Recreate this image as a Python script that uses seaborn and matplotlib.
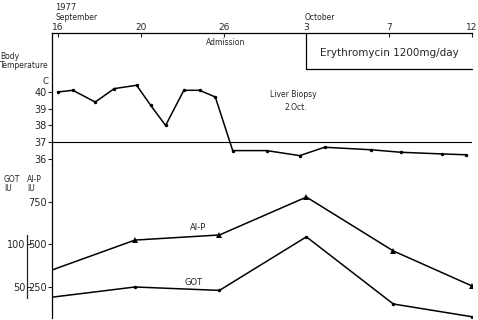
import matplotlib
matplotlib.use("Agg")
import matplotlib.pyplot as plt
import seaborn as sns
import pandas as pd

# Data (x in date-tick units: 0=Sep16, 1=Sep20, 2=Sep26, 3=Oct3, 4=Oct7, 5=Oct12)
date_ticks = [0, 1, 2, 3, 4, 5]
date_labels = ["16", "20", "26", "3", "7", "12"]

temp_pos = [0.0, 0.18, 0.45, 0.68, 0.95, 1.12, 1.30, 1.52, 1.71, 1.90,
            2.11, 2.52, 2.92, 3.22, 3.78, 4.14, 4.64, 4.93]
temp_val = [40.0, 40.1, 39.4, 40.2, 40.4, 39.2, 38.0, 40.1, 40.1, 39.7,
            36.5, 36.5, 36.2, 36.7, 36.55, 36.4, 36.3, 36.25]

lab_pos = [-0.072, 0.93, 1.95, 3.0, 4.05, 5.0]
alp_val = [350, 526, 556, 779, 462, 256]
got_val = [38, 50, 46, 109, 30, 15]

ery_start = 3  # Oct 3

sns.set_style("white")
plt.rcParams["font.family"] = ["DejaVu Sans"]

W, H = 478, 320
fig = plt.figure(figsize=(W / 100, H / 100), dpi=100)

x0, x1 = 52 / W, 420 / W
ax_t = fig.add_axes([x0, 1 - 165 / H, x1, 132 / H])
ax_e = fig.add_axes([x0, 1 - 318 / H, x1, 153 / H], sharex=ax_t)

temp_df = pd.DataFrame({"pos": temp_pos, "temp": temp_val})
lab_df = pd.DataFrame({"pos": lab_pos, "alp": alp_val,
                       "got5": [g * 5 for g in got_val]})

# --- temperature panel ---
sns.lineplot(data=temp_df, x="pos", y="temp", ax=ax_t, color="black",
             lw=1.1, marker="o", markersize=2.5, markeredgewidth=0)
ax_t.axhline(37, color="black", lw=0.8)
ax_t.set_xlim(-0.072, 5.0)
ax_t.set_ylim(35.64, 43.52)
ax_t.set_yticks([36, 37, 38, 39, 40])
ax_t.set_xticks(date_ticks)
ax_t.set_xticklabels(date_labels)
ax_t.xaxis.tick_top()
ax_t.tick_params(axis="x", top=True, bottom=False, direction="in", length=3,
                 width=0.8, pad=0.5, labelsize=6.5)
ax_t.tick_params(axis="y", left=True, direction="out", length=3, width=0.8,
                 pad=1, labelsize=7)
for s in ["right", "bottom"]:
    ax_t.spines[s].set_visible(False)
for s in ["left", "top"]:
    ax_t.spines[s].set_linewidth(0.9)
    ax_t.spines[s].set_color("black")
ax_t.set_xlabel("")
ax_t.set_ylabel("")

# erythromycin bracket
ax_t.plot([ery_start, ery_start, 5.0], [43.52, 41.4, 41.4], color="black",
          lw=0.9, clip_on=False)
ax_t.text(4.0, 42.35, "Erythromycin 1200mg/day", fontsize=7.5,
          ha="center", va="center")
ax_t.text(2.03, 42.93, "Admission", fontsize=5.5, ha="center", va="center")
ax_t.text(2.84, 39.82, "Liver Biopsy", fontsize=5.5, ha="center", va="center")
ax_t.text(2.87, 39.1, "2.Oct.", fontsize=5.5, ha="center", va="center")

# --- enzyme panel (GOT drawn in Al-P units, factor 5) ---
every = list(range(1, len(lab_pos)))
sns.lineplot(data=lab_df, x="pos", y="alp", ax=ax_e, color="black", lw=1.1,
             marker="^", markersize=4, markeredgewidth=0, markevery=every)
sns.lineplot(data=lab_df, x="pos", y="got5", ax=ax_e, color="black", lw=1.1,
             marker="o", markersize=2.5, markeredgewidth=0, markevery=every)

ax_e.set_ylim(67.6, 967.6)
ax_e.set_yticks([250, 500, 750])
ax_e.tick_params(axis="y", left=True, direction="out", length=3, width=0.8,
                 pad=1, labelsize=7)
ax_e.tick_params(axis="x", bottom=False, top=False, labelbottom=False)
for s in ["right", "bottom", "top"]:
    ax_e.spines[s].set_visible(False)
ax_e.spines["left"].set_linewidth(0.9)
ax_e.spines["left"].set_color("black")
ax_e.set_xlabel("")
ax_e.set_ylabel("")
ax_e.text(1.69, 600, "Al-P", fontsize=6, ha="center", va="center")
ax_e.text(1.64, 275, "GOT", fontsize=6, ha="center", va="center")

# GOT axis
ax_g = ax_e.twinx()
ax_g.set_ylim(67.6 / 5, 967.6 / 5)
ax_g.spines["left"].set_position(("axes", -0.0595))
ax_g.spines["left"].set_bounds(37, 111)
ax_g.spines["left"].set_linewidth(0.9)
for s in ["right", "bottom", "top"]:
    ax_g.spines[s].set_visible(False)
ax_g.yaxis.set_ticks_position("left")
ax_g.yaxis.set_label_position("left")
ax_g.set_yticks([50, 100])
ax_g.tick_params(axis="y", direction="in", length=3, width=0.8, pad=1,
                 labelsize=7)

# header / axis captions
fig.text(55 / W, 1 - 8 / H, "1977", fontsize=6, va="center")
fig.text(55 / W, 1 - 17 / H, "September", fontsize=5.5, va="center")
fig.text(305 / W, 1 - 17 / H, "October", fontsize=5.5, va="center")
fig.text(0, 1 - 61 / H, "Body\nTemperature", fontsize=5.5, va="center",
         linespacing=1.0)
fig.text(45 / W, 1 - 82 / H, "C", fontsize=6, ha="center", va="center")
fig.text(4 / W, 1 - 184 / H, "GOT\nIU", fontsize=5.5, va="center",
         linespacing=0.95)
fig.text(27 / W, 1 - 184 / H, "Al-P\nIU", fontsize=5.5, va="center",
         linespacing=0.95)

fig.savefig("out.png", dpi=100)
